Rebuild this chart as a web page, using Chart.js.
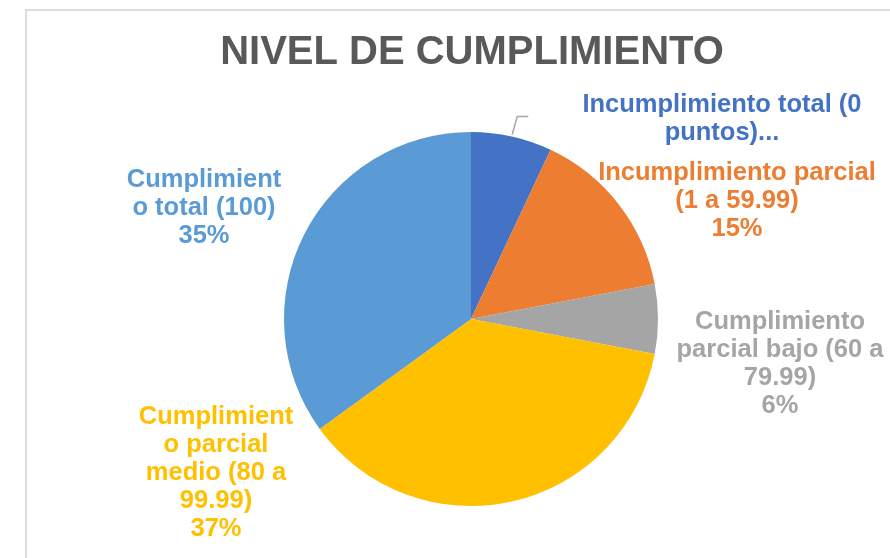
<!DOCTYPE html>
<html>
<head>
<meta charset="utf-8">
<script src="https://cdn.jsdelivr.net/npm/chart.js@4/dist/chart.umd.min.js"></script>
<style>
  html, body { margin: 0; padding: 0; background: #ffffff; }
  #wrap { width: 890px; height: 558px; position: relative; }
</style>
</head>
<body>
<div id="wrap"><canvas id="c" width="890" height="558"></canvas></div>
<script>
// ---- data ----
const categories = [
  "Incumplimiento total (0 puntos)",
  "Incumplimiento parcial (1 a 59.99)",
  "Cumplimiento parcial bajo (60 a 79.99)",
  "Cumplimiento parcial medio (80 a 99.99)",
  "Cumplimiento total (100)"
];
const values = [7, 15, 6, 37, 35];
const labelLines = [
  ["Incumplimiento total (0", "puntos)..."],
  ["Incumplimiento parcial", "(1 a 59.99)", "15%"],
  ["Cumplimiento", "parcial bajo (60 a", "79.99)", "6%"],
  ["Cumplimient", "o parcial", "medio (80 a", "99.99)", "37%"],
  ["Cumplimient", "o total (100)", "35%"]
];
const titleText = "NIVEL DE CUMPLIMIENTO";

// ---- styles / layout ----
const colors = ["#4472C4", "#ED7D31", "#A5A5A5", "#FFC000", "#5B9BD5"];
// label anchor (center of first line) relative to pie center, in px
const labelOffsets = [[251, -214], [266, -146], [309, 3], [-255, 98], [-267, -139]];
const labelFont = "bold 25.5px 'Liberation Sans', Arial, sans-serif";
const labelLineHeight = 28;
const titleFont = "bold 40px 'Liberation Sans', Arial, sans-serif";

const framePlugin = {
  id: 'frame',
  beforeDraw(chart) {
    const ctx = chart.ctx;
    ctx.save();
    ctx.fillStyle = '#ffffff';
    ctx.fillRect(0, 0, chart.width, chart.height);
    ctx.strokeStyle = '#dcdcdc';
    ctx.lineWidth = 2;
    ctx.beginPath();
    ctx.moveTo(26, chart.height);
    ctx.lineTo(26, 10);
    ctx.lineTo(chart.width, 10);
    ctx.stroke();
    // title, centred above the pie
    const meta = chart.getDatasetMeta(0);
    const cx = meta.data.length ? meta.data[0].x : chart.width / 2;
    ctx.font = titleFont;
    ctx.fillStyle = '#595959';
    ctx.textAlign = 'center';
    ctx.textBaseline = 'middle';
    ctx.fillText(titleText, cx + 1, 53);
    ctx.restore();
  }
};

const labelPlugin = {
  id: 'pieLabels',
  afterDatasetsDraw(chart) {
    const ctx = chart.ctx;
    const meta = chart.getDatasetMeta(0);
    ctx.save();
    ctx.font = labelFont;
    ctx.textAlign = 'center';
    ctx.textBaseline = 'middle';
    meta.data.forEach((arc, i) => {
      const p = arc.getProps(['x', 'y', 'startAngle', 'endAngle', 'outerRadius'], true);
      const [dx, dy] = labelOffsets[i];
      ctx.fillStyle = colors[i];
      labelLines[i].forEach((line, k) => {
        ctx.fillText(line, p.x + dx, p.y + dy + k * labelLineHeight);
      });
      if (i === 0) {
        // leader line for the first slice
        const mid = (p.startAngle + p.endAngle) / 2;
        const sx = p.x + Math.cos(mid) * (p.outerRadius + 2);
        const sy = p.y + Math.sin(mid) * (p.outerRadius + 2);
        ctx.strokeStyle = '#a6a6a6';
        ctx.lineWidth = 1.5;
        ctx.beginPath();
        ctx.moveTo(sx, sy);
        ctx.lineTo(sx + 5, sy - 18);
        ctx.lineTo(sx + 16, sy - 18);
        ctx.stroke();
      }
    });
    ctx.restore();
  }
};

new Chart(document.getElementById('c'), {
  type: 'pie',
  data: {
    labels: categories,
    datasets: [{
      data: values,
      backgroundColor: colors,
      borderWidth: 0
    }]
  },
  options: {
    responsive: false,
    animation: false,
    layout: { padding: { left: 284, right: 232, top: 132, bottom: 52 } },
    plugins: {
      legend: { display: false },
      tooltip: { enabled: false },
      title: { display: false }
    }
  },
  plugins: [framePlugin, labelPlugin]
});
</script>
</body>
</html>
